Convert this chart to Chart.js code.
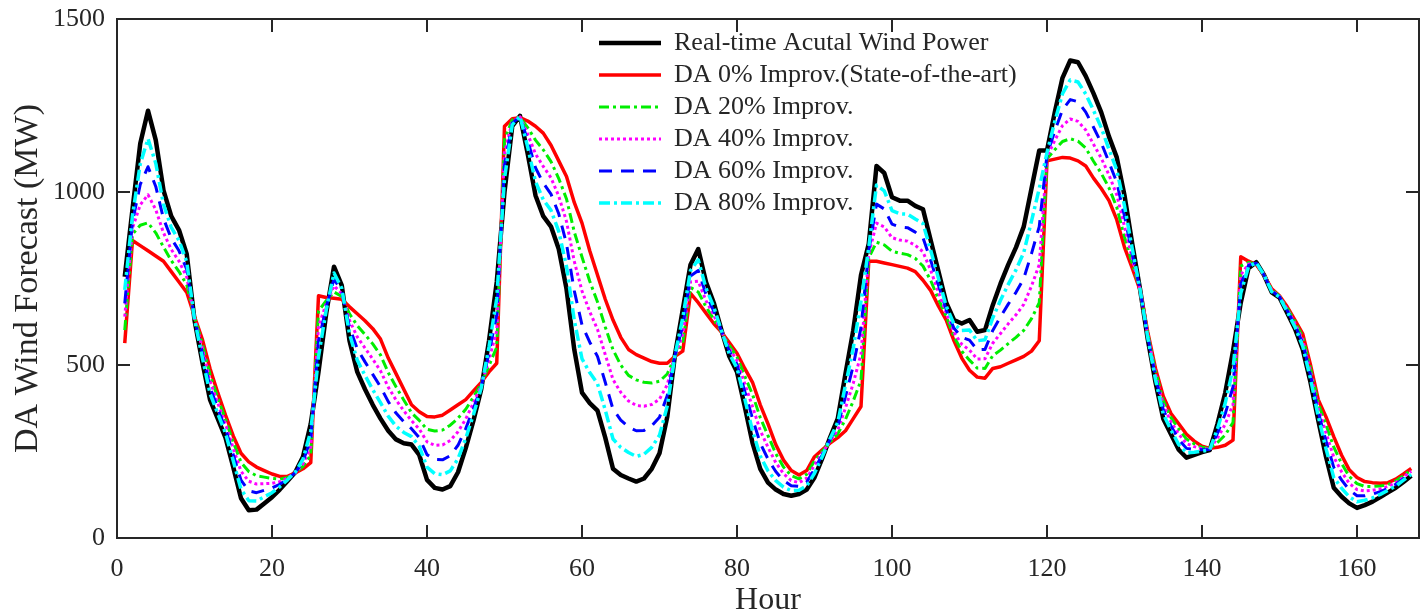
<!DOCTYPE html>
<html>
<head>
<meta charset="utf-8">
<title>DA Wind Forecast</title>
<script src="https://cdn.jsdelivr.net/npm/chart.js@4/dist/chart.umd.min.js"></script>
<style>
  body { margin: 0; background: #ffffff; }
  #wrap { width: 1422px; height: 614px; }
</style>
</head>
<body>
<div id="wrap"><canvas id="windChart" width="1422" height="614"></canvas></div>
<script>
// hours of the week
const hours = [1,2,3,4,5,6,7,8,9,10,11,12,13,14,15,16,17,18,19,20,
  21,22,23,24,25,26,27,28,29,30,31,32,33,34,35,36,37,38,39,40,
  41,42,43,44,45,46,47,48,49,50,51,52,53,54,55,56,57,58,59,60,
  61,62,63,64,65,66,67,68,69,70,71,72,73,74,75,76,77,78,79,80,
  81,82,83,84,85,86,87,88,89,90,91,92,93,94,95,96,97,98,99,100,
  101,102,103,104,105,106,107,108,109,110,111,112,113,114,115,116,117,118,119,120,
  121,122,123,124,125,126,127,128,129,130,131,132,133,134,135,136,137,138,139,140,
  141,142,143,144,145,146,147,148,149,150,151,152,153,154,155,156,157,158,159,160,
  161,162,163,164,165,166,167];

// MW values
const actualPower = [755,950,1140,1235,1150,1005,930,890,820,630,
  510,400,345,290,205,115,80,82,100,118,
  140,165,190,235,330,480,650,784,730,570,
  480,430,385,345,310,285,274,270,240,168,
  145,140,150,190,260,340,430,570,740,1000,
  1190,1220,1110,990,930,900,835,720,545,420,
  390,368,290,200,182,172,163,172,200,245,
  350,530,660,790,835,740,680,600,525,480,
  380,275,200,160,140,127,122,127,140,175,
  230,290,345,475,600,760,850,1075,1055,985,
  975,975,960,950,860,770,680,630,620,630,
  596,601,673,735,790,840,900,1010,1120,1120,
  1230,1330,1380,1375,1335,1285,1230,1160,1100,990,
  850,720,575,450,345,300,255,232,240,248,
  254,330,420,540,680,780,797,760,710,695,
  650,605,545,450,340,235,145,120,100,87,
  95,105,118,132,145,162,180];

const da0 = [563,860,845,830,815,800,770,740,710,640,
  575,490,420,355,295,245,220,205,195,185,
  178,178,188,200,218,700,695,693,690,668,
  648,628,605,575,520,475,430,385,365,351,
  350,355,370,385,400,425,450,480,505,1190,
  1212,1215,1205,1190,1170,1135,1090,1045,970,910,
  830,760,690,630,580,545,530,520,510,505,
  505,525,540,707,680,650,620,595,565,534,
  490,450,385,330,270,225,195,182,195,235,
  255,274,290,310,345,380,800,800,795,790,
  785,780,770,745,715,670,630,570,520,485,
  465,462,490,495,505,515,525,540,570,1090,
  1095,1100,1098,1090,1075,1040,1010,975,920,840,
  780,717,595,490,410,360,330,300,280,265,
  259,262,268,283,813,800,790,760,720,700,
  668,630,590,500,400,350,293,240,197,175,
  163,160,158,160,170,185,201];

const da20 = [601,878,904,911,882,841,802,770,732,638,
  562,472,405,342,277,219,192,180,176,172,
  170,175,188,207,240,656,686,711,698,648,
  614,588,561,529,478,437,399,362,340,314,
  309,312,326,346,372,408,446,498,552,1152,
  1208,1216,1186,1150,1122,1088,1039,980,885,812,
  742,682,610,544,500,470,457,450,448,453,
  474,526,564,724,711,668,632,596,557,523,
  468,415,348,296,244,205,180,171,184,223,
  250,277,301,343,396,456,810,855,847,829,
  823,819,808,786,744,690,640,582,540,514,
  491,490,527,543,562,580,600,634,680,1096,
  1122,1146,1154,1147,1127,1089,1054,1012,956,870,
  794,718,591,482,397,348,315,286,272,262,
  258,276,298,334,786,796,791,760,718,699,
  664,625,581,490,388,327,263,216,178,157,
  149,149,150,154,165,180,197];

const da40 = [640,896,963,992,949,882,834,800,754,636,
  549,454,390,329,259,193,164,156,157,158,
  163,173,189,214,263,612,677,729,706,629,
  581,549,517,483,436,399,368,339,315,278,
  268,269,282,307,344,391,442,516,599,1114,
  1203,1217,1167,1110,1074,1041,988,915,800,714,
  654,603,530,458,421,396,383,381,386,401,
  443,527,588,740,742,686,644,597,549,512,
  446,380,311,262,218,186,166,160,173,211,
  245,280,312,376,447,532,820,910,899,868,
  861,858,846,827,773,710,650,594,560,543,
  517,518,563,591,619,645,675,728,790,1102,
  1149,1192,1211,1204,1179,1138,1098,1049,992,900,
  808,718,587,474,384,336,300,273,264,258,
  257,289,329,386,760,792,793,760,716,698,
  661,620,572,480,376,304,234,192,158,140,
  136,138,142,149,160,176,193];

const da60 = [678,914,1022,1073,1016,923,866,830,776,634,
  536,436,375,316,241,167,136,131,138,145,
  155,170,189,221,285,568,668,748,714,609,
  547,509,473,437,394,361,336,316,290,241,
  227,226,238,268,316,374,438,534,646,1076,
  1199,1218,1148,1070,1026,994,937,850,715,616,
  566,525,450,372,341,321,310,311,324,349,
  412,528,612,757,773,704,656,598,541,502,
  424,345,274,228,192,166,151,149,162,199,
  240,284,323,409,498,608,830,965,951,907,
  899,897,884,868,802,730,660,606,580,572,
  544,545,600,639,676,710,750,822,900,1108,
  1176,1238,1267,1261,1231,1187,1142,1086,1028,930,
  822,719,583,466,371,324,285,259,256,255,
  256,303,359,437,733,788,794,760,714,697,
  657,615,563,470,364,281,204,168,139,122,
  122,127,134,143,155,171,188];

const da80 = [717,932,1081,1154,1083,964,898,860,798,632,
  523,418,360,303,223,141,108,107,119,131,
  148,168,190,228,308,524,659,766,722,590,
  514,470,429,391,352,323,305,293,265,205,
  186,183,194,229,288,357,434,552,693,1038,
  1194,1219,1129,1030,978,947,886,785,630,518,
  478,446,370,286,262,247,236,242,262,297,
  381,529,636,773,804,722,668,599,533,491,
  402,310,237,194,166,147,137,138,151,187,
  235,287,334,442,549,684,840,1020,1003,946,
  937,936,922,909,831,750,670,618,600,601,
  570,573,636,687,733,775,825,916,1010,1114,
  1203,1284,1324,1318,1283,1236,1186,1123,1064,960,
  836,719,579,458,358,312,270,246,248,251,
  255,316,390,489,707,784,796,760,712,696,
  654,610,554,460,352,258,175,144,119,105,
  109,116,126,138,150,167,184];

const xTicks = [0, 20, 40, 60, 80, 100, 120, 140, 160];
const yTicks = [0, 500, 1000, 1500];

const axisColor = '#262626';
const serif = 'Liberation Serif';

function toPoints(values) {
    return values.map((v, i) => ({ x: hours[i], y: v }));
}

// put the legend inside the plot, top middle, like the matlab figure
const legendSpot = {
    id: 'legendSpot',
    afterLayout(chart) {
        chart.legend.left = 593;
        chart.legend.top = 24;
    }
};

// box axes with inward ticks
function boxAxis(position, min, max, showLabels, fixSize) {
    const vertical = (position === 'left' || position === 'right');
    return {
        type: 'linear',
        position: position,
        min: min,
        max: max,
        afterBuildTicks: scale => {
            scale.ticks = (vertical ? yTicks : xTicks).map(v => ({ value: v }));
        },
        afterFit: scale => {
            if (vertical) scale.width = fixSize; else scale.height = fixSize;
            // no extra room for overhanging labels
            scale.paddingTop = 0;
            scale.paddingBottom = 0;
            scale.paddingLeft = 0;
            scale.paddingRight = 0;
        },
        ticks: {
            display: showLabels,
            includeBounds: false,
            maxRotation: 0,
            padding: vertical ? 25 : 29,
            color: axisColor,
            font: { family: serif, size: 26 },
            callback: v => String(v)
        },
        grid: {
            drawOnChartArea: false,
            drawTicks: true,
            tickLength: -13,
            color: axisColor,
            lineWidth: 2
        },
        border: { display: true, color: axisColor, width: 2 }
    };
}

const xAxis = boxAxis('bottom', 0, 168, true, 76);
xAxis.title = { display: true, text: 'Hour', color: axisColor, font: { family: serif, size: 32, lineHeight: 1 }, padding: { top: 0, bottom: -3 } };

const yAxis = boxAxis('left', 0, 1500, true, 117);
yAxis.title = { display: true, text: 'DA Wind Forecast (MW)', color: axisColor, font: { family: serif, size: 34, lineHeight: 1 }, padding: { top: 11, bottom: 0 } };

const xTop = boxAxis('top', 0, 168, false, 0);
const yRight = boxAxis('right', 0, 1500, false, 0);

// legend lines keep the dash pattern of their series
function legendLabels(chart) {
    const items = Chart.defaults.plugins.legend.labels.generateLabels(chart);
    return items.map(item => {
        const ds = chart.data.datasets[item.datasetIndex];
        item.lineDash = ds.borderDash || [];
        item.lineWidth = ds.borderWidth;
        item.strokeStyle = ds.borderColor;
        item.pointStyle = 'line';
        return item;
    });
}

const ctx = document.getElementById('windChart').getContext('2d');

new Chart(ctx, {
    type: 'line',
    data: {
        datasets: [
            {
                label: 'Real-time Acutal Wind Power',
                data: toPoints(actualPower),
                borderColor: '#000000',
                borderWidth: 4.5,
                order: 6
            },
            {
                label: 'DA 0% Improv.(State-of-the-art)',
                data: toPoints(da0),
                borderColor: '#ff0000',
                borderWidth: 3.5,
                order: 5
            },
            {
                label: 'DA 20% Improv.',
                data: toPoints(da20),
                borderColor: '#00ee00',
                borderWidth: 3,
                borderDash: [10, 4, 3, 4],
                order: 4
            },
            {
                label: 'DA 40% Improv.',
                data: toPoints(da40),
                borderColor: '#ff00ff',
                borderWidth: 3,
                borderDash: [3, 3],
                order: 3
            },
            {
                label: 'DA 60% Improv.',
                data: toPoints(da60),
                borderColor: '#0000ff',
                borderWidth: 3,
                borderDash: [13, 9],
                order: 2
            },
            {
                label: 'DA 80% Improv.',
                data: toPoints(da80),
                borderColor: '#00ffff',
                borderWidth: 3.5,
                borderDash: [11, 4, 3, 4],
                order: 1
            }
        ]
    },
    options: {
        responsive: false,
        animation: false,
        devicePixelRatio: 1,
        layout: { padding: { left: 0, right: 3, top: 19, bottom: 0 } },
        elements: {
            point: { radius: 0 },
            line: { tension: 0, fill: false, borderCapStyle: 'butt', borderJoinStyle: 'round' }
        },
        scales: {
            x: xAxis,
            y: yAxis,
            x2: xTop,
            y2: yRight
        },
        plugins: {
            tooltip: { enabled: false },
            legend: {
                position: 'chartArea',
                align: 'start',
                labels: {
                    usePointStyle: true,
                    pointStyle: 'line',
                    pointStyleWidth: 62,
                    boxHeight: 26,
                    padding: 6,
                    textAlign: 'left',
                    color: axisColor,
                    font: { family: serif, size: 26 },
                    generateLabels: legendLabels,
                    sort: (a, b) => a.datasetIndex - b.datasetIndex
                }
            }
        }
    },
    plugins: [legendSpot]
});
</script>
</body>
</html>
